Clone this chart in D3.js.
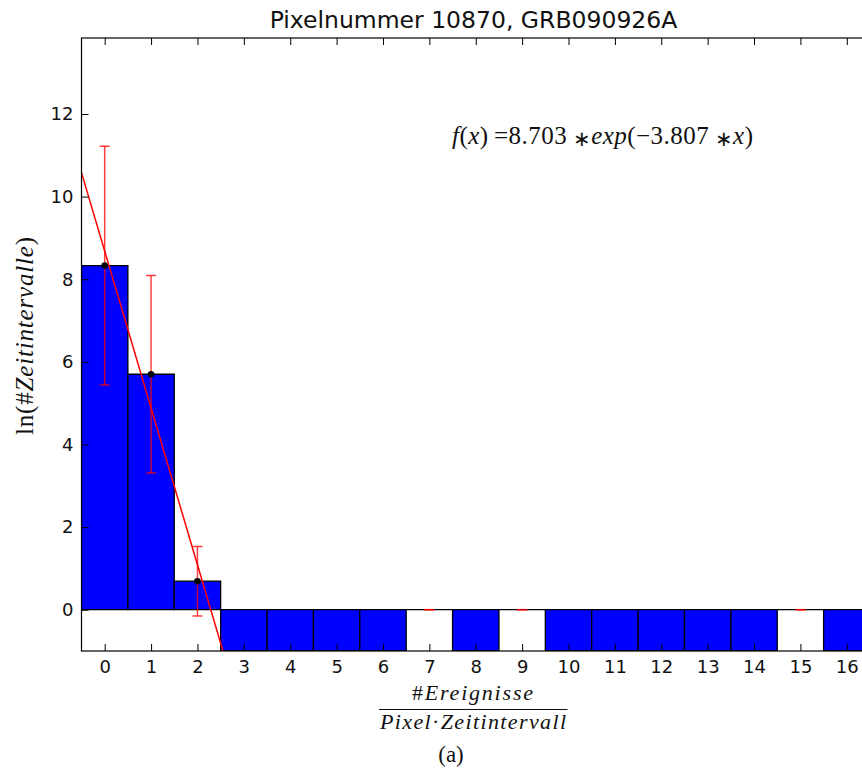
<!DOCTYPE html>
<html>
<head>
<meta charset="utf-8">
<script src="https://cdn.jsdelivr.net/npm/d3@7"></script>
<style>
  body { margin: 0; background: #fff; }
  svg { display: block; }
  .tick text { font-family: "DejaVu Sans", sans-serif; font-size: 18px; fill: #111; }
  .tick line { stroke: #000; stroke-width: 1; }
  .math { font-family: "Liberation Serif", serif; fill: #111; }
</style>
</head>
<body>
<svg id="chart" width="862" height="774"></svg>
<script>
// bins on the x axis (#events per pixel and time interval)
var bins = [0, 1, 2, 3, 4, 5, 6, 7, 8, 9, 10, 11, 12, 13, 14, 15, 16];
// ln(#time intervals), -Infinity where the bin is empty (ln 0)
var lnCounts = [8.33, 5.70, 0.69, -Infinity, -Infinity, -Infinity, -Infinity, 0,
    -Infinity, 0, -Infinity, -Infinity, -Infinity, -Infinity, -Infinity, 0, -Infinity];
// error bars, null = not drawn
var errors = [2.89, 2.39, 0.84, null, null, null, null, 0, null, 0, null, null, null, null, null, 0, null];
// fitted line
var fitLine = [{x: -0.5, y: 10.58}, {x: 2.55, y: -1.0}];
var yTicks = [0, 2, 4, 6, 8, 10, 12];

var svg = d3.select("#chart");
var margin = {left: 81.5, top: 38, right: 870, bottom: 651};

var x = d3.scaleLinear().domain([-0.5, 16.5]).range([margin.left, margin.right]);
var y = d3.scaleLinear().domain([-1, 13.84]).range([margin.bottom, margin.top]);

svg.append("clipPath").attr("id", "plotclip")
    .append("rect")
    .attr("x", margin.left).attr("y", margin.top)
    .attr("width", margin.right - margin.left)
    .attr("height", margin.bottom - margin.top);

var plot = svg.append("g").attr("clip-path", "url(#plotclip)");

function barTop(v) { return Math.max(v, y.domain()[0]); }

var errData = bins.map(function(b, i) { return {x: b, v: lnCounts[i], e: errors[i]}; })
    .filter(function(d) { return d.e !== null; });

// bars (negative ones hang down from 0), zero-height bars drawn as a path so the edge shows
plot.selectAll(".bar")
    .data(bins)
    .enter().append("path")
    .attr("class", "bar")
    .attr("d", function(d, i) {
        var x0 = x(d - 0.5), x1 = x(d + 0.5);
        var y0 = y(0), y1 = y(barTop(lnCounts[i]));
        return "M" + x0 + "," + y0 + "L" + x0 + "," + y1 + "L" + x1 + "," + y1 + "L" + x1 + "," + y0 + "Z";
    })
    .attr("fill", "#0000ff")
    .attr("stroke", "#000")
    .attr("stroke-width", 1.3);

// fit line
var line = d3.line()
    .x(function(d) { return x(d.x); })
    .y(function(d) { return y(d.y); });

plot.append("path")
    .datum(fitLine)
    .attr("d", line)
    .attr("fill", "none")
    .attr("stroke", "#ff0000")
    .attr("stroke-width", 1.5);

// error bars
var eb = plot.selectAll(".err").data(errData).enter().append("g").attr("class", "err")
    .attr("stroke", "#ff0000").attr("stroke-opacity", 0.75).attr("stroke-width", 1.5);
eb.append("line")
    .attr("x1", function(d) { return x(d.x); }).attr("x2", function(d) { return x(d.x); })
    .attr("y1", function(d) { return y(d.v - d.e); }).attr("y2", function(d) { return y(d.v + d.e); });
eb.append("line")
    .attr("x1", function(d) { return x(d.x) - 5; }).attr("x2", function(d) { return x(d.x) + 5; })
    .attr("y1", function(d) { return y(d.v + d.e); }).attr("y2", function(d) { return y(d.v + d.e); });
eb.append("line")
    .attr("x1", function(d) { return x(d.x) - 5; }).attr("x2", function(d) { return x(d.x) + 5; })
    .attr("y1", function(d) { return y(d.v - d.e); }).attr("y2", function(d) { return y(d.v - d.e); });

plot.selectAll(".dot")
    .data(errData.filter(function(d) { return d.e > 0; }))
    .enter().append("circle")
    .attr("class", "dot")
    .attr("cx", function(d) { return x(d.x); })
    .attr("cy", function(d) { return y(d.v); })
    .attr("r", 3.3)
    .attr("fill", "#000");

// axes, ticks pointing inward
var gx = svg.append("g").attr("transform", "translate(0," + margin.bottom + ")")
    .call(d3.axisBottom(x).tickValues(bins).tickSizeInner(-7).tickSizeOuter(0).tickPadding(9));
var gxt = svg.append("g").attr("transform", "translate(0," + margin.top + ")")
    .call(d3.axisTop(x).tickValues(bins).tickSizeInner(-7).tickSizeOuter(0).tickFormat(""));
var gy = svg.append("g").attr("transform", "translate(" + margin.left + ",0)")
    .call(d3.axisLeft(y).tickValues(yTicks).tickSizeInner(-7).tickSizeOuter(0).tickPadding(8));
var gyr = svg.append("g").attr("transform", "translate(" + margin.right + ",0)")
    .call(d3.axisRight(y).tickValues(yTicks).tickSizeInner(-7).tickSizeOuter(0).tickFormat(""));
[gx, gxt, gy, gyr].forEach(function(g) { g.select(".domain").remove(); });

svg.append("rect")
    .attr("x", margin.left).attr("y", margin.top)
    .attr("width", margin.right - margin.left)
    .attr("height", margin.bottom - margin.top)
    .attr("fill", "none").attr("stroke", "#000").attr("stroke-width", 1.2);

// title
svg.append("text")
    .attr("x", 473.5).attr("y", 28)
    .attr("text-anchor", "middle")
    .style("font-family", "DejaVu Sans, sans-serif")
    .style("font-size", "23.5px")
    .style("fill", "#111")
    .text("Pixelnummer 10870, GRB090926A");

// fit formula
function ast(t) {
    t.append("tspan").style("font-size", "21px").attr("dy", 2).text("\u2217");
}
var f = svg.append("text").attr("class", "math")
    .attr("x", 452).attr("y", 144)
    .attr("textLength", 301).attr("lengthAdjust", "spacing")
    .style("font-size", "25px");
f.append("tspan").style("font-style", "italic").text("f");
f.append("tspan").text("(");
f.append("tspan").style("font-style", "italic").text("x");
f.append("tspan").text(")\u2009=8.703\u2009");
ast(f);
f.append("tspan").attr("dy", -2).style("font-style", "italic").text("exp");
f.append("tspan").text("(\u22123.807\u2009");
ast(f);
f.append("tspan").attr("dy", -2).style("font-style", "italic").text("x");
f.append("tspan").text(")");

// y label
var yl = svg.append("text").attr("class", "math")
    .attr("transform", "translate(33,336) rotate(-90)")
    .attr("text-anchor", "middle")
    .attr("textLength", 198).attr("lengthAdjust", "spacing")
    .style("font-size", "25px");
yl.append("tspan").text("ln(#");
yl.append("tspan").style("font-style", "italic").text("Zeitintervalle");
yl.append("tspan").text(")");

// x label as a fraction
svg.append("text").attr("class", "math")
    .attr("x", 472.5).attr("y", 700)
    .attr("text-anchor", "middle")
    .attr("textLength", 121).attr("lengthAdjust", "spacing")
    .style("font-size", "22px")
    .call(function(t) {
        t.append("tspan").text("#");
        t.append("tspan").style("font-style", "italic").text("Ereignisse");
    });
svg.append("line")
    .attr("x1", 379).attr("x2", 567.5)
    .attr("y1", 709.5).attr("y2", 709.5)
    .attr("stroke", "#111").attr("stroke-width", 1);
svg.append("text").attr("class", "math")
    .attr("x", 473).attr("y", 729)
    .attr("text-anchor", "middle")
    .attr("textLength", 186).attr("lengthAdjust", "spacing")
    .style("font-size", "22px")
    .call(function(t) {
        t.append("tspan").style("font-style", "italic").text("Pixel");
        t.append("tspan").text("\u00b7");
        t.append("tspan").style("font-style", "italic").text("Zeitintervall");
    });

// caption
svg.append("text").attr("class", "math")
    .attr("x", 451).attr("y", 762)
    .attr("text-anchor", "middle")
    .style("font-size", "23px")
    .text("(a)");
</script>
</body>
</html>
